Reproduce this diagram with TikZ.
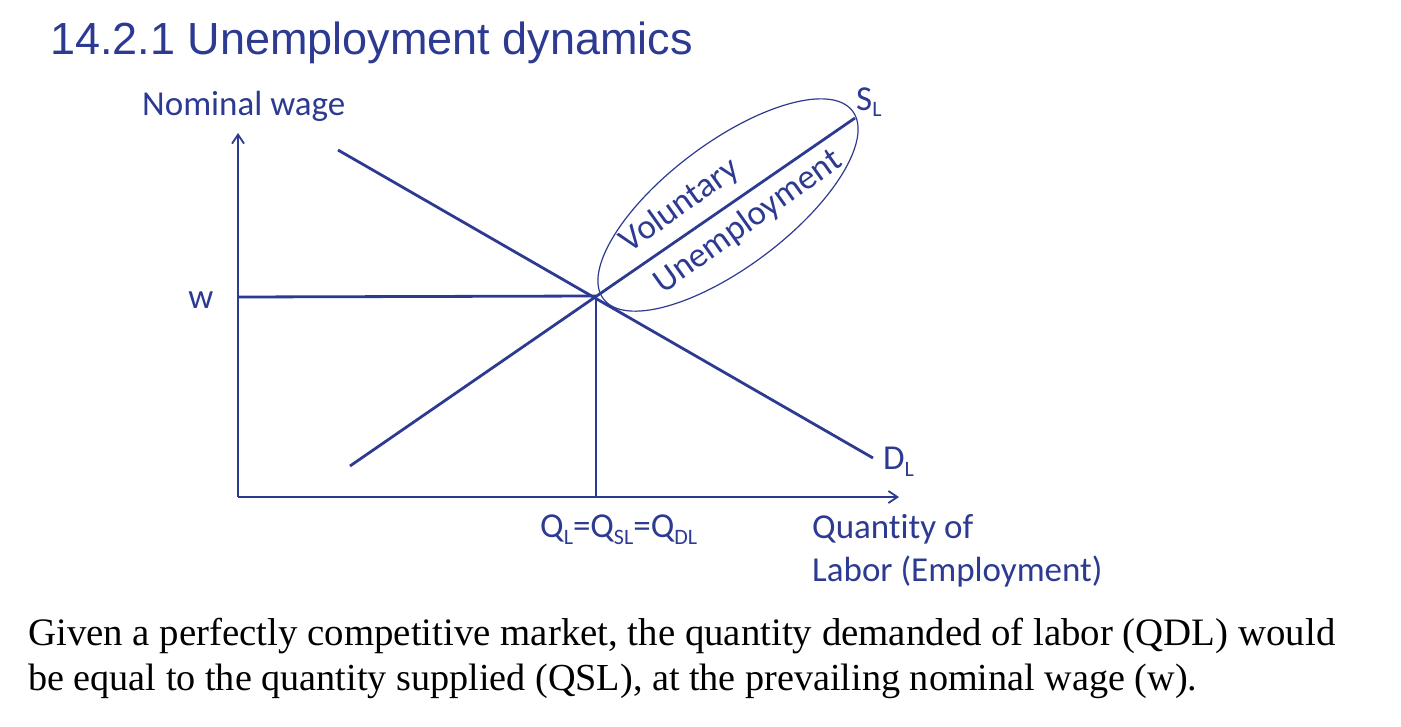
\documentclass[tikz,border=0pt]{standalone}
\usepackage{fontspec}
\setmainfont{Liberation Serif}
\newfontfamily\lab[Ligatures=NoCommon]{Carlito}
\newfontfamily\ttl{Liberation Sans}
\usetikzlibrary{arrows.meta}
\definecolor{navy}{RGB}{45,58,145}
\newcommand{\lsub}[1]{\raisebox{-0.4ex}{\fontsize{22}{24}\selectfont #1}}
\tikzset{
  curve/.style={draw=navy, line width=2.8pt},
  axis/.style={draw=navy, line width=2.8pt, -{Straight Barb[length=9pt,width=12pt,line width=1.8pt]}},
  lbl/.style={text=navy, font=\lab\fontsize{35}{40}\selectfont, inner sep=0pt},
}
\begin{document}
\begin{tikzpicture}[x=1pt,y=-1pt]
\useasboundingbox (0,0) rectangle (1401,726);
% title
\node[anchor=west, text=navy, font=\ttl\fontsize{45}{48}\selectfont, inner sep=0pt] (title) at (50,43) {14.2.1 Unemployment dynamics};
% axes
\coordinate (O) at (238,497);
\coordinate (ytop) at (238,133);
\coordinate (xend) at (899,497);
\draw[axis] (O) -- (ytop);
\draw[axis] (O) -- (xend);
% curves
\coordinate (d1) at (338,150);
\coordinate (d2) at (873,458);
\coordinate (s1) at (350,466);
\coordinate (s2) at (855,118);
\coordinate (E) at (596,296);
\coordinate (wpt) at (238,297);
\coordinate (qpt) at (596,497);
\draw[curve] (d1) -- (d2);
\draw[curve] (s1) -- (s2);
\draw[curve] (wpt) -- (E);
\draw[curve] (E) -- (qpt);
% ellipse
\draw[navy, line width=1.2pt, rotate around={37:(728,205)}] (728,205) ellipse [x radius=156, y radius=62];
\node[lbl, rotate=35.5] (vol) at (680,206) {Voluntary};
\node[lbl, rotate=35.5] (unemp) at (748,222) {Unemployment};
% labels
\node[lbl, anchor=west] (nw) at (142,106) {Nominal wage};
\node[lbl] (w) at (201,300) {w};
\node[lbl, anchor=west] (sl) at (856,102) {S\lsub{L}};
\node[lbl, anchor=west] (dl) at (883,462) {D\lsub{L}};
\node[lbl, anchor=west] (q) at (540,530) {Q\lsub{L}=Q\lsub{SL}=Q\lsub{DL}};
\node[lbl, anchor=base west] (qty) at (812,538) {Quantity of};
\node[lbl, anchor=base west] (qty2) at (812,581) {Labor (Employment)};
% bottom text
\node[anchor=base west, inner sep=0pt, font=\fontsize{31}{34}\selectfont] (t1) at (28,645) {\resizebox{1307pt}{!}{Given a perfectly competitive market, the quantity demanded of labor (QDL) would}};
\node[anchor=base west, inner sep=0pt, font=\fontsize{31}{34}\selectfont] (t2) at (28,690) {\resizebox{1169pt}{!}{be equal to the quantity supplied (QSL), at the prevailing nominal wage (w).}};
\end{tikzpicture}
\end{document}
